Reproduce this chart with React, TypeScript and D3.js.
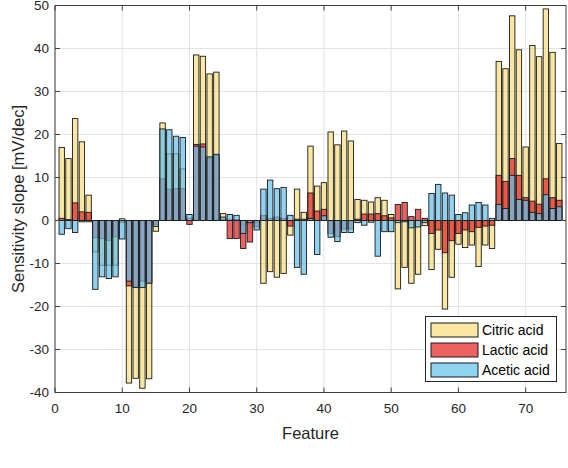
import React from 'react';
import * as d3 from 'd3';

const features = d3.range(1, 76);

const citric = [
  17.0, 14.4, 23.7, 18.3, 5.9, -7.3, -10.4, -10.4, -10.4, 0.4,
  -37.8, -36.7, -39.0, -36.8, -2.5, 22.7, 15.5, 15.5, 12.0, 0.5,
  38.5, 38.2, 34.1, 34.5, 1.6, 0.3, 0.2, -1.0, -0.5, -0.5,
  -14.6, -11.9, -13.2, -12.3, -3.4, 7.3, 1.9, 17.3, 8.0, 8.8,
  20.6, 17.6, 20.8, 18.5, 4.9, 4.7, 4.3, 5.3, 4.7, 1.4,
  -15.9, -10.9, -14.6, -12.5, -1.2, -11.4, -6.7, -20.6, -13.2, -5.5,
  -6.3, -5.7, -10.7, -5.7, -6.5, 37.0, 35.3, 47.6, 39.7, 17.1,
  40.7, 38.1, 49.2, 39.1, 17.9,
];

const lactic = [
  0.5, 0.2, 4.1, 2.0, 1.9, -4.0, -4.2, -4.6, -3.8, -0.5,
  -15.2, -15.4, -14.1, -14.4, -1.0, 9.7, 7.3, 7.4, 7.4, -0.9,
  17.7, 17.8, 14.5, 15.1, 0.3, -4.2, -4.2, -6.5, -5.0, -1.5,
  1.2, 0.5, 0.8, 0.5, -1.3, 0.3, 0.3, 6.4, 2.2, 2.6,
  -3.0, -3.8, -2.0, -2.0, 0.3, 1.5, 1.5, 1.6, 1.1, 0.6,
  3.7, 4.2, 0.9, 2.6, 0.5, -3.0, -2.2, -7.5, -4.7, -3.0,
  -2.2, -2.6, -1.6, -1.3, -1.1, 10.5, 9.1, 14.4, 10.5, 5.3,
  4.5, 3.8, 9.7, 5.3, 4.7,
];

const acetic = [
  -3.2, -1.9, -2.8, -0.3, -0.3, -16.0, -13.1, -13.5, -13.1, -4.3,
  -14.1, -15.6, -15.6, -14.6, -1.4, 21.3, 21.1, 19.6, 19.3, 1.4,
  17.3, 17.1, 14.8, 15.4, 0.8, 1.4, 1.2, -3.0, -0.5, -2.2,
  7.3, 9.4, 7.4, 7.7, 1.2, -10.9, -12.5, 0.5, -7.9, 1.1,
  -3.9, -4.9, -2.8, -2.8, -0.5, -1.1, -0.4, -8.3, -2.6, -2.6,
  -0.5, -0.3, -1.7, -1.5, -0.5, 6.3, 8.4, 6.4, 5.9, 1.4,
  1.8, 3.6, 4.2, 3.6, 0.5, 3.7, 2.8, 10.5, 4.9, 4.7,
  1.9, 1.6, 6.0, 2.8, 3.2,
];

const seriesNames = ['Citric acid', 'Lactic acid', 'Acetic acid'];
const xTicks = [0, 10, 20, 30, 40, 50, 60, 70];
const yTicks = [-40, -30, -20, -10, 0, 10, 20, 30, 40, 50];
const xDomain = [0, 76];
const yDomain = [-40, 50];

const FONT = '"Liberation Sans", Arial, Helvetica, sans-serif';
const TXT = '#262626';

export default function App() {
  const W = 568;
  const H = 468;
  const L = 55, R = 566, T = 5.5, B = 392.5;
  const x = d3.scaleLinear().domain(xDomain).range([L, R]);
  const y = d3.scaleLinear().domain(yDomain).range([B, T]);
  const bw = x(0.8) - x(0);

  const series = [
    { name: seriesNames[0], values: citric, fill: 'rgb(245,215,100)', op: 0.6 },
    { name: seriesNames[1], values: lactic, fill: 'rgb(230,30,30)', op: 0.7 },
    { name: seriesNames[2], values: acetic, fill: 'rgb(100,192,236)', op: 0.72 },
  ];

  const tick = 5;
  const lgX = 425.5, lgY = 316.5, lgW = 131, lgH = 65;

  return (
    <svg
      width={W}
      height={H}
      style={{ position: 'absolute', left: 0, top: 0, background: '#fff' }}
      fontFamily={FONT}
    >
      <rect x={0} y={0} width={W} height={H} fill="#fff" />
      {xTicks.map((t) => (
        <line key={'gx' + t} x1={x(t)} x2={x(t)} y1={T} y2={B} stroke="#e3e3e3" strokeWidth={1} />
      ))}
      {yTicks.map((t) => (
        <line key={'gy' + t} x1={L} x2={R} y1={y(t)} y2={y(t)} stroke="#e3e3e3" strokeWidth={1} />
      ))}
      {series.map((s, si) => (
        <g key={'s' + si}>
          {s.values.map((v, i) => {
            const f = features[i];
            const y0 = y(0);
            const y1 = y(v);
            return (
              <rect
                key={i}
                x={x(f) - bw / 2}
                y={Math.min(y0, y1)}
                width={bw}
                height={Math.abs(y1 - y0)}
                fill={s.fill}
                fillOpacity={s.op}
                stroke="#1a1a1a"
                strokeWidth={0.9}
              />
            );
          })}
        </g>
      ))}
      <rect x={L} y={T} width={R - L} height={B - T} fill="none" stroke="#404040" strokeWidth={1} />
      {xTicks.map((t) => (
        <g key={'tx' + t}>
          <line x1={x(t)} x2={x(t)} y1={B} y2={B - tick} stroke="#404040" />
          <line x1={x(t)} x2={x(t)} y1={T} y2={T + tick} stroke="#404040" />
          <text x={x(t)} y={408} dy="0.35em" textAnchor="middle" fontSize={13.5} fill={TXT}>
            {t}
          </text>
        </g>
      ))}
      {yTicks.map((t) => (
        <g key={'ty' + t}>
          <line x1={L} x2={L + tick} y1={y(t)} y2={y(t)} stroke="#404040" />
          <line x1={R} x2={R - tick} y1={y(t)} y2={y(t)} stroke="#404040" />
          <text x={L - 6} y={y(t)} dy="0.35em" textAnchor="end" fontSize={13.5} fill={TXT}>
            {t}
          </text>
        </g>
      ))}
      <text x={(L + R) / 2} y={433} dy="0.35em" textAnchor="middle" fontSize={16.5} fill={TXT}>
        Feature
      </text>
      <text
        x={18}
        y={(T + B) / 2}
        dy="0.35em"
        textAnchor="middle"
        fontSize={16.5}
        fill={TXT}
        transform={`rotate(-90, 18, ${(T + B) / 2})`}
      >
        Sensitivity slope [mV/dec]
      </text>
      <rect x={lgX} y={lgY} width={lgW} height={lgH} fill="#fff" stroke="#262626" strokeWidth={1} />
      {series.map((s, i) => (
        <g key={'lg' + i}>
          <rect
            x={431}
            y={323 + i * 20}
            width={47}
            height={14}
            fill={s.fill}
            fillOpacity={s.op}
            stroke="#1a1a1a"
            strokeWidth={1}
          />
          <text x={482} y={330 + i * 20} dy="0.35em" fontSize={14} fill="#000">
            {s.name}
          </text>
        </g>
      ))}
    </svg>
  );
}
